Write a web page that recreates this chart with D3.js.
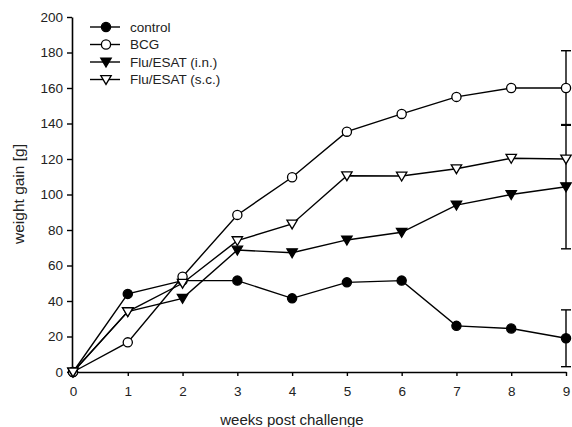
<!DOCTYPE html>
<html lang="en">
<head>
  <meta charset="UTF-8">
  <title>Weight gain</title>
  <style>
    body, html { margin: 0; padding: 0; background: #fff; }
    svg { display: block; font-family: "Liberation Sans", Arial, sans-serif; }
  </style>
</head>
<body>
  <svg id="chart" width="572" height="427"></svg>
  <script src="https://d3js.org/d3.v7.min.js"></script>
  <script>
    // -------- DATA ------------
    const weeks = [0, 1, 2, 3, 4, 5, 6, 7, 8, 9]
    const control = [0, 44, 51.5, 51.5, 41.5, 50.5, 51.5, 26, 24.5, 19]
    const bcg = [0, 16.7, 53.7, 88.5, 109.7, 135.4, 145.4, 155, 160, 160]
    const fluIn = [0, 34, 41.5, 68.7, 67.2, 74.4, 78.7, 94, 100, 104.4]
    const fluSc = [0, 34, 50, 74, 83.4, 110.6, 110.4, 114.5, 120.4, 120]
    // error (+/-) at last week only
    const lastErr = { control: 16, bcg: 21, fluIn: 35 }
    const yTicks = [0, 20, 40, 60, 80, 100, 120, 140, 160, 180, 200]

    const series = [
      { key: 'control', name: 'control', values: control, shape: 'circle', fill: '#000' },
      { key: 'bcg', name: 'BCG', values: bcg, shape: 'circle', fill: '#fff' },
      { key: 'fluIn', name: 'Flu/ESAT (i.n.)', values: fluIn, shape: 'tri', fill: '#000' },
      { key: 'fluSc', name: 'Flu/ESAT (s.c.)', values: fluSc, shape: 'tri', fill: '#fff' }
    ]

    const svg = d3.select('#chart')

    // -------- SCALES ------------
    const x = d3.scaleLinear().domain([0, 9]).range([73, 566])
    const y = d3.scaleLinear().domain([0, 200]).range([372, 17])

    // -------- AXES --------------
    const xAxis = svg.append('g')
      .attr('transform', 'translate(0,372)')
      .call(d3.axisBottom(x).tickValues(weeks).tickSize(4).tickPadding(10).tickSizeOuter(0))
    const yAxis = svg.append('g')
      .attr('transform', 'translate(72,0)')
      .call(d3.axisLeft(y).tickValues(yTicks).tickSize(5).tickPadding(4).tickSizeOuter(0))

    ;[xAxis, yAxis].forEach(g => {
      g.select('.domain').attr('stroke', '#000').attr('stroke-width', 1.6)
      g.selectAll('.tick line').attr('stroke', '#000').attr('stroke-width', 1.4)
      g.selectAll('.tick text')
        .attr('fill', '#222')
        .style('font-size', '13.5px')
        .style('font-family', '"Liberation Sans", Arial, sans-serif')
    })

    // axis titles
    svg.append('text')
      .attr('x', 292).attr('y', 425)
      .attr('text-anchor', 'middle')
      .style('font-size', '15px')
      .attr('fill', '#222')
      .text('weeks post challenge')
    svg.append('text')
      .attr('transform', 'translate(24,194)rotate(-90)')
      .attr('text-anchor', 'middle')
      .style('font-size', '15.5px')
      .attr('fill', '#222')
      .text('weight gain [g]')

    // -------- MARKERS ------------
    function drawMarker(g, s, cx, cy) {
      if (s.shape === 'circle') {
        g.append('circle')
          .attr('cx', cx).attr('cy', cy).attr('r', 4.6)
          .attr('fill', s.fill).attr('stroke', '#000').attr('stroke-width', 1.3)
      } else {
        const h = 5.2
        g.append('path')
          .attr('d', `M${cx - h},${cy - h * 0.75}L${cx + h},${cy - h * 0.75}L${cx},${cy + h * 0.95}Z`)
          .attr('fill', s.fill).attr('stroke', '#000').attr('stroke-width', 1.3)
      }
    }

    // -------- ERROR BARS ------------
    const errG = svg.append('g')
    series.forEach(s => {
      const e = lastErr[s.key]
      if (!e) return
      const v = s.values[s.values.length - 1]
      const cx = x(9)
      errG.append('line')
        .attr('x1', cx).attr('x2', cx)
        .attr('y1', y(v + e)).attr('y2', y(v - e))
        .attr('stroke', '#000').attr('stroke-width', 1.4)
      ;[v + e, v - e].forEach(val => {
        errG.append('line')
          .attr('x1', cx - 5).attr('x2', cx + 5)
          .attr('y1', y(val)).attr('y2', y(val))
          .attr('stroke', '#000').attr('stroke-width', 1.4)
      })
    })

    // -------- LINES ------------
    const line = d3.line().x((d, i) => x(weeks[i])).y(d => y(d))
    series.forEach(s => {
      svg.append('path')
        .datum(s.values)
        .attr('fill', 'none')
        .attr('stroke', '#000')
        .attr('stroke-width', 1.4)
        .attr('d', line)
    })
    series.forEach(s => {
      const g = svg.append('g')
      s.values.forEach((v, i) => drawMarker(g, s, x(weeks[i]), y(v)))
    })

    // -------- LEGEND ------------
    const legend = svg.append('g')
    series.forEach((s, i) => {
      const ly = 27 + i * 17.5
      legend.append('line')
        .attr('x1', 90).attr('x2', 120)
        .attr('y1', ly).attr('y2', ly)
        .attr('stroke', '#000').attr('stroke-width', 1.4)
      drawMarker(legend, s, 106, ly)
      legend.append('text')
        .attr('x', 130).attr('y', ly)
        .attr('dy', '0.35em')
        .style('font-size', '13.5px')
        .attr('fill', '#222')
        .text(s.name)
    })
  </script>
</body>
</html>
